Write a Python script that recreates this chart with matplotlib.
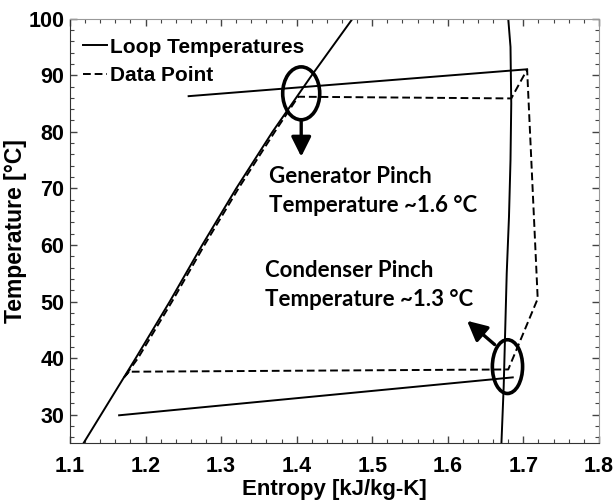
import matplotlib.pyplot as plt
from matplotlib.patches import Ellipse
from matplotlib.ticker import MultipleLocator

# saturation dome (solid)
liq_T = [25, 30, 40, 50, 60, 70, 80, 90, 100]
liq_s = [1.118, 1.141, 1.187, 1.232, 1.275, 1.320, 1.368, 1.420, 1.474]
vap_T = [25, 35, 45, 55, 65, 75, 85, 95, 100]
vap_s = [1.671, 1.674, 1.676, 1.678, 1.681, 1.683, 1.684, 1.683, 1.680]

# loop temperatures (solid)
hot_s = [1.257, 1.705]
hot_T = [86.3, 91.05]
cold_s = [1.165, 1.686]
cold_T = [29.9, 36.6]

# measured cycle (dashed)
cyc_s = [1.178, 1.171, 1.190, 1.235, 1.278, 1.323, 1.371, 1.402, 1.684, 1.705, 1.719, 1.680, 1.178]
cyc_T = [37.6, 36.5, 40.0, 50.0, 60.0, 70.0, 80.0, 86.2, 85.9, 91.0, 50.5, 38.0, 37.6]

fig = plt.figure(figsize=(6.13, 5.04), dpi=100)
ax = fig.add_axes([0.1142, 0.121, 0.8628, 0.842])

ax.plot(liq_s, liq_T, color='black', lw=1.4)
ax.plot(vap_s, vap_T, color='black', lw=1.4)
ax.plot(hot_s, hot_T, color='black', lw=1.4, label='Loop Temperatures')
ax.plot(cold_s, cold_T, color='black', lw=1.4)
ax.plot(cyc_s, cyc_T, color='black', lw=1.4, ls=(0, (4, 2)), label='Data Point')

# pinch markers
ax.add_patch(Ellipse((1.406, 86.8), 0.049, 9.35, fill=False, lw=2.6, color='black'))
ax.add_patch(Ellipse((1.679, 38.5), 0.040, 9.5, fill=False, lw=2.6, color='black'))
arrow = dict(arrowstyle='-|>,head_length=0.6,head_width=0.3', lw=2.4, color='black',
             mutation_scale=20, shrinkA=0, shrinkB=0)
ax.annotate('', xy=(1.406, 75.6), xytext=(1.406, 82.1), arrowprops=arrow)
ax.annotate('', xy=(1.6255, 46.6), xytext=(1.662, 42.4), arrowprops=arrow)

note = dict(fontsize=16, fontweight='bold', family='Lato', va='center', ha='left')
ax.text(1.363, 72.05, 'Generator Pinch', **note)
ax.text(1.363, 66.9, 'Temperature ~1.6 °C', **note)
ax.text(1.358, 55.5, 'Condenser Pinch', **note)
ax.text(1.358, 50.4, 'Temperature ~1.3 °C', **note)

ax.set_xlim(1.1, 1.8)
ax.set_ylim(25, 100)
ax.xaxis.set_major_locator(MultipleLocator(0.1))
ax.xaxis.set_minor_locator(MultipleLocator(0.02))
ax.yaxis.set_minor_locator(MultipleLocator(2))
ax.set_yticks([30, 40, 50, 60, 70, 80, 90, 100])
ax.tick_params(which='both', direction='in', top=True, right=True, color='#444')
ax.tick_params(which='major', length=5, width=1)
ax.tick_params(which='minor', length=3, width=0.8)
ax.tick_params(axis='x', labelsize=15.5, pad=9)
ax.tick_params(axis='y', labelsize=15.5, pad=4)
for lab in ax.get_xticklabels() + ax.get_yticklabels():
    lab.set_fontweight('bold')
    lab.set_family('Liberation Sans')
for side in ['top', 'right']:
    ax.spines[side].set_color('#999')
for side in ['bottom', 'left']:
    ax.spines[side].set_color('#333')

ax.set_xlabel('Entropy [kJ/kg-K]', fontsize=16, fontweight='bold', family='Liberation Sans', labelpad=2)
ax.set_ylabel('Temperature [°C]', fontsize=16.5, fontweight='bold', family='Liberation Sans', labelpad=1)

ax.legend(loc='upper left', bbox_to_anchor=(0.009, 0.975), frameon=False,
          handlelength=1.15, handletextpad=0.15, labelspacing=0.45, borderaxespad=0,
          prop={'family': 'Liberation Sans', 'weight': 'bold', 'size': 15})

fig.savefig('out.png', dpi=100)
